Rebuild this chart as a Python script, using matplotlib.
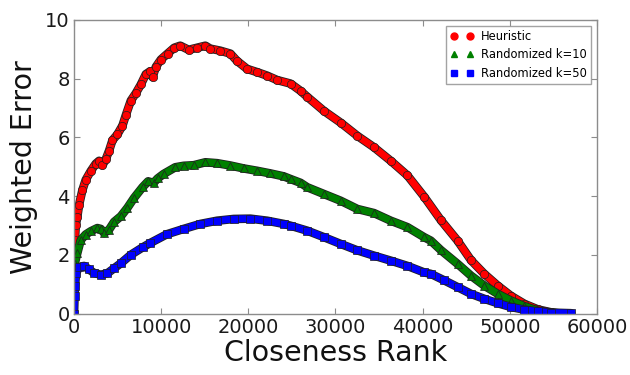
import matplotlib
matplotlib.use("Agg")
import matplotlib.pyplot as plt
import matplotlib.patheffects as pe
from matplotlib.lines import Line2D

# === DATA ===
heur_x = [0, 100, 200, 380, 580, 960, 1340, 1920, 2490, 2880, 3260, 3640, 4030,
          4410, 4980, 5560, 5940, 6520, 7090, 7670, 8240, 8740, 9010, 9390, 9970,
          10730, 11500, 12190, 13150, 14110, 15070, 15640, 16790, 17940, 18710,
          19860, 21010, 22160, 23310, 24840, 26000, 26760, 28670, 30590, 32510,
          34420, 36340, 38260, 40170, 42090, 44010, 45540, 47070, 48610, 50140,
          51670, 53210, 54740, 55500, 56200]
heur_y = [2.0, 2.5, 3.0, 3.3, 3.7, 4.2, 4.55, 4.85, 5.1, 5.2, 5.05, 5.25, 5.55,
          5.9, 6.1, 6.4, 6.75, 7.25, 7.5, 7.8, 8.15, 8.25, 8.05, 8.4, 8.65,
          8.85, 9.05, 9.12, 8.98, 9.05, 9.12, 9.02, 8.95, 8.85, 8.6,
          8.33, 8.22, 8.1, 7.95, 7.83, 7.58, 7.38, 6.9, 6.5, 6.05,
          5.66, 5.2, 4.7, 3.98, 3.18, 2.48, 1.82, 1.35, 0.95, 0.6,
          0.33, 0.14, 0.04, 0.01, 0.0]

rand10_x = [0, 80, 380, 770, 1340, 1920, 2680, 3070, 3450, 4030, 4600, 5370,
            6130, 6900, 7860, 8500, 9120, 9600, 10270, 11615, 12575, 13735,
            15070, 16410, 17940, 19470, 21010, 22540, 24070, 24840, 25990,
            26760, 28670, 30590, 32510, 34420, 36340, 38260, 40170, 40940,
            42090, 44010, 45540, 47070, 48610, 50140, 51670, 53210, 54740, 55500]
rand10_y = [1.5, 1.7, 2.06, 2.5, 2.69, 2.8, 2.91, 2.88, 2.74, 2.86, 3.12, 3.31,
            3.6, 3.94, 4.3, 4.5, 4.45, 4.6, 4.75, 4.98, 5.03, 5.05,
            5.15, 5.12, 5.04, 4.94, 4.86, 4.77, 4.67, 4.58, 4.45,
            4.3, 4.07, 3.84, 3.56, 3.42, 3.16, 2.94, 2.6, 2.48,
            2.16, 1.69, 1.29, 0.95, 0.67, 0.44, 0.25, 0.1, 0.03, 0.0]

rand50_x = [0, 60, 120, 230, 575, 1150, 1720, 2300, 3070, 3830, 4600, 5370,
            6520, 7860, 8740, 10660, 12570, 14490, 16410, 18320, 20240, 22160,
            24070, 24840, 26760, 28670, 30590, 32510, 34420, 36340, 38260,
            40170, 40940, 42470, 44010, 45540, 47070, 48610, 50140, 51670,
            53210, 54740, 57040]
rand50_y = [0.0, 0.6, 0.95, 1.37, 1.58, 1.62, 1.5, 1.38, 1.32, 1.37, 1.54, 1.71,
            2.0, 2.25, 2.4, 2.7, 2.88, 3.05, 3.16, 3.22, 3.23, 3.16,
            3.05, 2.99, 2.82, 2.6, 2.37, 2.15, 1.97, 1.8, 1.62,
            1.4, 1.35, 1.13, 0.9, 0.67, 0.5, 0.35, 0.22, 0.13,
            0.07, 0.03, 0.01]

series = [
    ("Heuristic", heur_x, heur_y, "red", "o"),
    ("Randomized k=10", rand10_x, rand10_y, "green", "^"),
    ("Randomized k=50", rand50_x, rand50_y, "blue", "s"),
]

# === PLOT ===
fig = plt.figure(figsize=(6.3, 3.75), dpi=100)
ax = fig.add_axes([0.1175, 0.164, 0.830, 0.783])

handles = []
for label, xs, ys, color, marker in series:
    # thick band under the markers, outlined like the marker edges
    ax.plot(xs, ys, color=color, linewidth=5.0, solid_capstyle="round",
            solid_joinstyle="round",
            path_effects=[pe.Stroke(linewidth=6.2, foreground="#202020"), pe.Normal()])
    ax.plot(xs, ys, linestyle="none", marker=marker, markersize=6,
            markerfacecolor=color, markeredgecolor="#202020", markeredgewidth=0.5)
    handles.append(Line2D([], [], linestyle="none", marker=marker, markersize=5,
                          markerfacecolor=color, markeredgecolor=color, label=label))

ax.set_xlim(0, 60000)
ax.set_ylim(0, 10)
ax.set_xticks(range(0, 60001, 10000))
ax.set_yticks(range(0, 11, 2))

for s in ax.spines.values():
    s.set_color("#8c8c8c")
    s.set_linewidth(1.0)
ax.tick_params(direction="in", top=True, right=True, length=4, width=0.8,
               color="#8c8c8c", labelsize=14, labelcolor="#1a1a1a", pad=3)

ax.set_xlabel("Closeness Rank", fontsize=20.5, color="#111111", labelpad=2)
ax.set_ylabel("Weighted Error", fontsize=20.5, color="#111111", labelpad=5)

leg = ax.legend(handles=handles, loc="upper right", numpoints=2, fontsize=8.3,
                fancybox=False, borderaxespad=0.5, handlelength=2.0,
                handletextpad=0.6, borderpad=0.4, labelspacing=0.45)
leg.get_frame().set_edgecolor("#8c8c8c")
leg.get_frame().set_linewidth(1.0)

fig.savefig("out.png", dpi=100)
